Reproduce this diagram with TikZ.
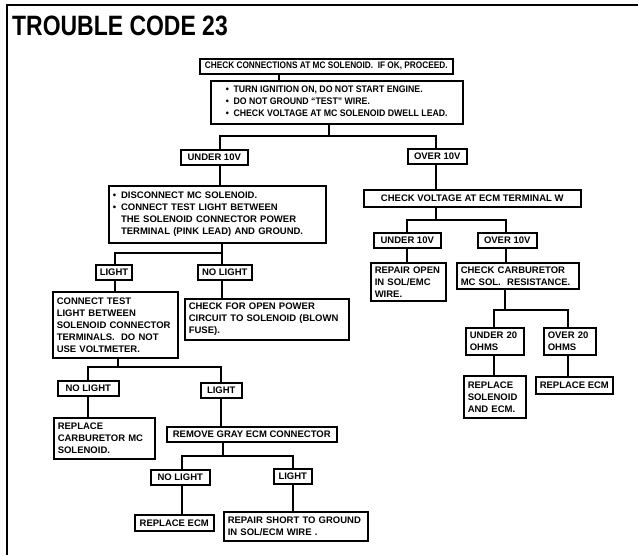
\documentclass[tikz,border=0pt]{standalone}
\usepackage{fontspec}
\setmainfont{Liberation Sans}
\usepackage{graphicx}
\newcommand{\boxfont}{\bfseries\fontsize{9.5}{12}\selectfont}
\newcommand{\bul}{\textbullet\hspace{5pt}}
\newcommand{\nobul}{\hphantom{\textbullet}\hspace{5pt}}

\begin{document}
\begin{tikzpicture}[x=1pt, y=-1pt,
	box/.style={draw, line width=1.5pt, anchor=north west, inner xsep=4pt, inner ysep=1pt, font=\boxfont},
	tbox/.style={box, align=left},
	wire/.style={line width=1.5pt}]
	\useasboundingbox (0,0) rectangle (638,555);
	\draw[line width=2pt] (7,555) -- (7,5) -- (638,5);
	\node[anchor=base west, inner sep=0pt, font=\bfseries\fontsize{28}{30}\selectfont] (title) at (12,35) {\scalebox{0.82}[1]{TROUBLE CODE 23}};
	% top of the chart
	\node[box, minimum width=253, minimum height=15] (conn) at (199,58) {\scalebox{0.87}[1]{CHECK CONNECTIONS AT MC SOLENOID.\ \ IF OK, PROCEED.}};
	\node[box, minimum width=252, minimum height=43] (bul1) at (210,80) {\scalebox{0.92}[1]{\begin{tabular}{@{}l@{}}\bul TURN IGNITION ON, DO NOT START ENGINE.\\ \bul DO NOT GROUND “TEST” WIRE.\\ \bul CHECK VOLTAGE AT MC SOLENOID DWELL LEAD.\end{tabular}}};
	\node[box, minimum width=67, minimum height=15] (under1) at (180,149) {UNDER 10V};
	\node[box, minimum width=59, minimum height=15] (over1) at (407,148) {OVER 10V};
	% left branch
	\node[tbox, text width=209, minimum height=57] (dis) at (108,185) {\bul DISCONNECT MC SOLENOID.\\ \bul CONNECT TEST LIGHT BETWEEN\\ \nobul THE SOLENOID CONNECTOR POWER\\ \nobul TERMINAL (PINK LEAD) AND GROUND.};
	\node[box, minimum width=33, minimum height=15] (light1) at (95,264) {LIGHT};
	\node[box, minimum width=54, minimum height=15] (nolight1) at (197,264) {NO LIGHT};
	\node[tbox, text width=117, minimum height=66] (conntest) at (52,291) {CONNECT TEST\\ LIGHT BETWEEN\\ SOLENOID CONNECTOR\\ TERMINALS.\ \ DO NOT\\ USE VOLTMETER.};
	\node[tbox, text width=156, minimum height=41] (openpwr) at (184,298) {CHECK FOR OPEN POWER\\ CIRCUIT TO SOLENOID (BLOWN\\ FUSE).};
	\node[box, minimum width=61, minimum height=15] (nolight2) at (57,380) {NO LIGHT};
	\node[box, minimum width=41, minimum height=15] (light2) at (200,382) {LIGHT};
	\node[tbox, text width=93, minimum height=41] (replcarb) at (53,417) {REPLACE\\ CARBURETOR MC\\ SOLENOID.};
	\node[box, minimum width=170, minimum height=15] (remove) at (166,426) {REMOVE GRAY ECM CONNECTOR};
	\node[box, minimum width=59, minimum height=15] (nolight3) at (150,469) {NO LIGHT};
	\node[box, minimum width=38, minimum height=15] (light3) at (273,468) {LIGHT};
	\node[box, minimum width=79, minimum height=16] (replecm1) at (134,514) {REPLACE ECM};
	\node[tbox, text width=136, minimum height=29] (repshort) at (223,511) {REPAIR SHORT TO GROUND\\ IN SOL/ECM WIRE .};
	% right branch
	\node[box, minimum width=217, minimum height=17] (volt) at (363,189) {CHECK VOLTAGE AT ECM TERMINAL W};
	\node[box, minimum width=67, minimum height=15] (under2) at (373,232) {UNDER 10V};
	\node[box, minimum width=59, minimum height=15] (over2) at (477,232) {OVER 10V};
	\node[tbox, text width=67, minimum height=38] (repopen) at (370,262) {REPAIR OPEN\\ IN SOL/EMC\\ WIRE.};
	\node[tbox, text width=114, minimum height=26] (checkcarb) at (456,262) {CHECK CARBURETOR\\ MC SOL.\ \ RESISTANCE.};
	\node[tbox, text width=50, minimum height=27] (under20) at (465,327) {UNDER 20\\ OHMS};
	\node[tbox, text width=44, minimum height=27] (over20) at (543,327) {OVER 20\\ OHMS};
	\node[tbox, text width=54, minimum height=42] (replsol) at (463,375) {REPLACE\\ SOLENOID\\ AND ECM.};
	\node[box, minimum width=77, minimum height=17] (replecm2) at (535,376) {REPLACE ECM};
	% connectors
	\coordinate (s0) at (279,0);
	\draw[wire] (conn.south -| s0) -- (bul1.north -| s0);
	\coordinate (s1) at (329,136);
	\coordinate (l1) at (220,136);
	\coordinate (r1) at (436,136);
	\draw[wire] (bul1.south -| s1) -- (s1);
	\draw[wire] (under1.north -| l1) |- (r1) -- (over1.north -| r1);
	\draw[wire] (l1 |- under1.south) -- (l1 |- dis.north);
	\draw[wire] (r1 |- over1.south) -- (r1 |- volt.north);
	\coordinate (l2) at (115,253);
	\coordinate (r2) at (222,253);
	\draw[wire] (dis.south -| r2) -- (r2);
	\draw[wire] (light1.north -| l2) |- (r2) -- (nolight1.north -| r2);
	\draw[wire] (l2 |- light1.south) -- (l2 |- conntest.north);
	\draw[wire] (r2 |- nolight1.south) -- (r2 |- openpwr.north);
	\coordinate (s3) at (118,367);
	\coordinate (l3) at (88,367);
	\coordinate (r3) at (221,367);
	\draw[wire] (conntest.south -| s3) -- (s3);
	\draw[wire] (nolight2.north -| l3) |- (r3) -- (light2.north -| r3);
	\draw[wire] (l3 |- nolight2.south) -- (l3 |- replcarb.north);
	\draw[wire] (r3 |- light2.south) -- (r3 |- remove.north);
	\coordinate (s4) at (223,456);
	\coordinate (l4) at (182,456);
	\coordinate (r4) at (293,456);
	\draw[wire] (remove.south -| s4) -- (s4);
	\draw[wire] (nolight3.north -| l4) |- (r4) -- (light3.north -| r4);
	\draw[wire] (l4 |- nolight3.south) -- (l4 |- replecm1.north);
	\draw[wire] (r4 |- light3.south) -- (r4 |- repshort.north);
	\coordinate (l5) at (407,220);
	\coordinate (r5) at (506,220);
	\draw[wire] (volt.south -| r1) -- (r1 |- l5);
	\draw[wire] (under2.north -| l5) |- (r5) -- (over2.north -| r5);
	\draw[wire] (l5 |- under2.south) -- (l5 |- repopen.north);
	\draw[wire] (r5 |- over2.south) -- (r5 |- checkcarb.north);
	\coordinate (s6) at (505,310);
	\coordinate (l6) at (494,310);
	\coordinate (r6) at (568,310);
	\draw[wire] (checkcarb.south -| s6) -- (s6);
	\draw[wire] (under20.north -| l6) |- (r6) -- (over20.north -| r6);
	\draw[wire] (l6 |- under20.south) -- (l6 |- replsol.north);
	\draw[wire] (r6 |- over20.south) -- (r6 |- replecm2.north);
\end{tikzpicture}
\end{document}
